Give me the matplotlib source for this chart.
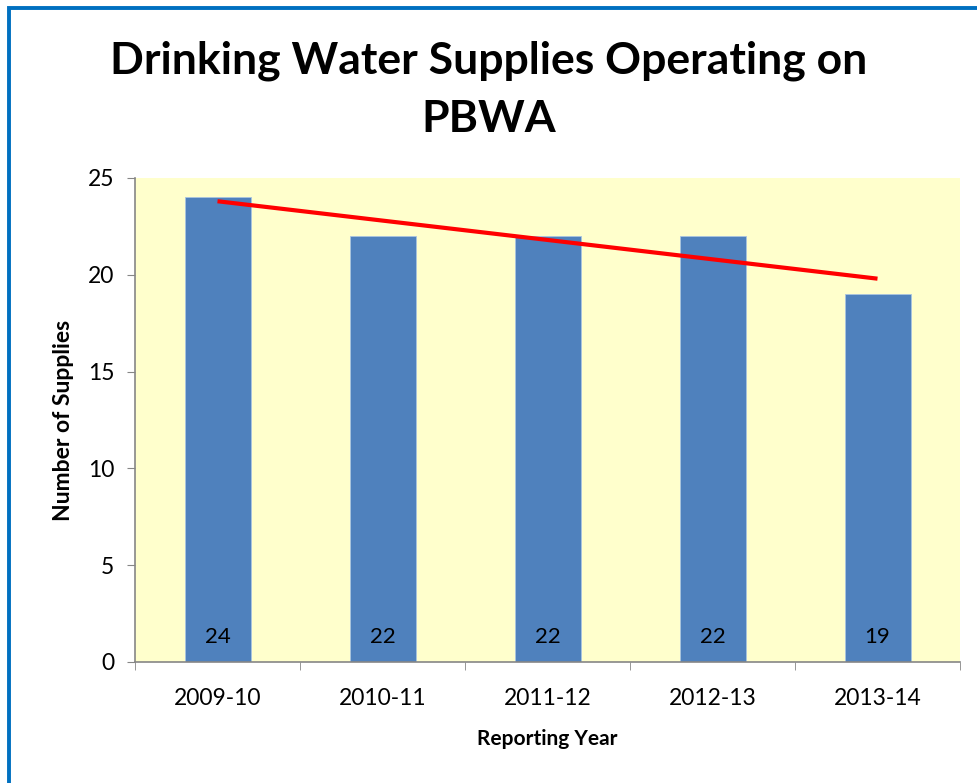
import numpy as np
import matplotlib.pyplot as plt
from matplotlib.patches import Rectangle

# data
years = ['2009-10', '2010-11', '2011-12', '2012-13', '2013-14']
supplies = [24, 22, 22, 22, 19]

plt.rcParams['font.family'] = ['Lato', 'DejaVu Sans']

fig = plt.figure(figsize=(9.77, 7.83), dpi=100)
ax = fig.add_axes([135 / 977, 1 - 662 / 783, 825 / 977, 484 / 783])

x = np.arange(len(years))
ax.bar(x, supplies, width=0.4, color='#4F81BD', edgecolor='#A9C4E0', linewidth=0.6, zorder=2)

# linear trend
k, b = np.polyfit(x, supplies, 1)
ax.plot(x, k * x + b, color='#FF0000', linewidth=3, solid_capstyle='butt', zorder=3)

for xi, v in zip(x, supplies):
    ax.annotate(str(v), (xi, 0), xytext=(0, 11), textcoords='offset points',
                ha='center', va='bottom', fontsize=16, color='black', zorder=4)

ax.set_facecolor('#FFFFCC')
ax.set_xlim(-0.5, len(years) - 0.5)
ax.set_ylim(0, 25)
ax.set_yticks(range(0, 26, 5))
ax.set_xticks(x)
ax.set_xticklabels(years)
ax.set_xticks(np.arange(-0.5, len(years), 1), minor=True)
ax.tick_params(axis='x', which='major', length=0, pad=19, labelsize=16.5)
ax.tick_params(axis='x', which='minor', length=6, color='#868686', direction='out')
ax.tick_params(axis='y', length=6, color='#868686', labelsize=16.5, pad=9)
for s in ['top', 'right']:
    ax.spines[s].set_visible(False)
for s in ['left', 'bottom']:
    ax.spines[s].set_color('#868686')
    ax.spines[s].set_linewidth(1.2)

ax.set_xlabel('Reporting Year', fontsize=15, fontweight='bold', labelpad=14)
ax.set_ylabel('Number of Supplies', fontsize=16.5, fontweight='bold', labelpad=10)

fig.text(0.5, 1 - 90 / 783, 'Drinking Water Supplies Operating on\nPBWA', ha='center', va='center',
         fontsize=32, fontweight='bold', linespacing=1.55)

# outer border (only left and top edges visible)
fig.patches.append(Rectangle((8.5 / 977, -0.05), 1.1, 1.05 - 7.5 / 783, transform=fig.transFigure,
                             fill=False, edgecolor='#0070C0', linewidth=2.8, clip_on=False))

fig.savefig('out.png', dpi=100)
